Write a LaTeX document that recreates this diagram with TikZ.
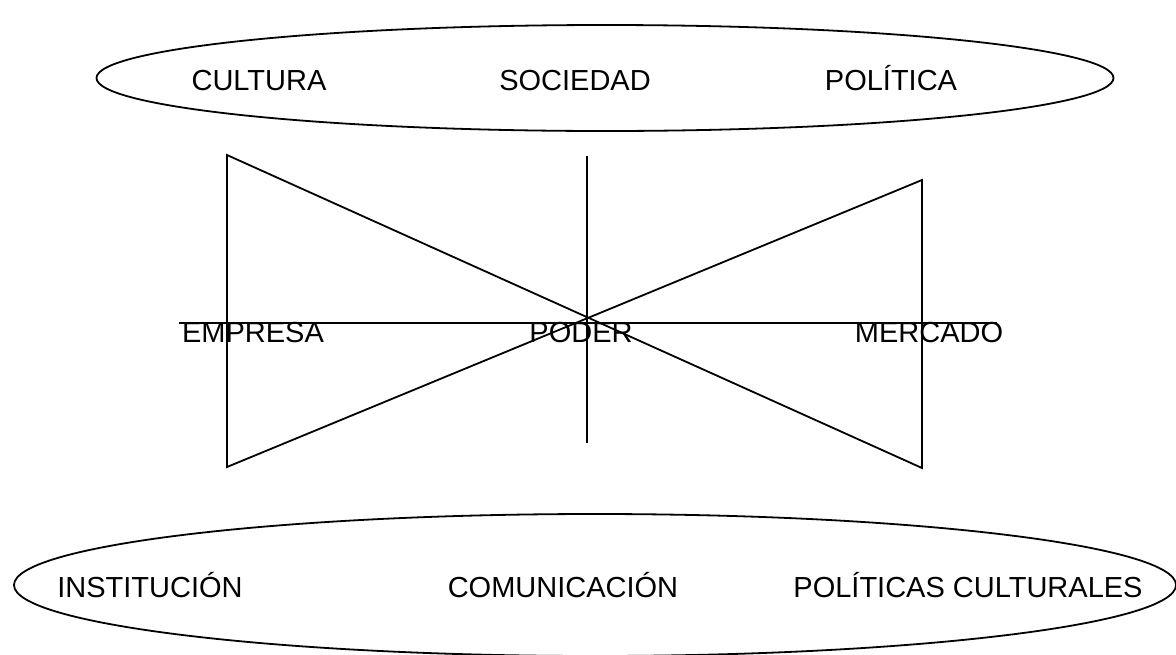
\documentclass[tikz,border=0pt]{standalone}
\usepackage{fontspec}
\setmainfont{Liberation Sans}
\usetikzlibrary{shapes.geometric}
\tikzset{
    rotulo/.style={font=\fontsize{29}{35}\selectfont,anchor=base,inner sep=0pt},
    ovalo/.style={draw,ellipse,inner sep=0pt},
}

\begin{document}
\begin{tikzpicture}[x=1pt,y=-1pt,line width=1.8pt]
		\useasboundingbox (0,0) rectangle (1176,654);
		\clip (0,0) rectangle (1176,654);
		\node[ovalo,minimum width=1017,minimum height=106] (arriba) at (605,78) {};
		\node[ovalo,minimum width=1162,minimum height=142] (abajo) at (595,585) {};
		\foreach \n/\t/\x in {cul/CULTURA/259,soc/SOCIEDAD/575,pol/POLÍTICA/891} \node[rotulo] (\n) at (\x,90) {\t};
		\foreach \n/\t/\x in {ins/INSTITUCIÓN/150,com/COMUNICACIÓN/563,pcu/POLÍTICAS CULTURALES/968} \node[rotulo] (\n) at (\x,597) {\t};
		\coordinate (empA) at (227,155); \coordinate (empB) at (227,467);
		\coordinate (merA) at (922,180); \coordinate (merB) at (922,468);
		\coordinate (podA) at (587,156); \coordinate (podB) at (587,443);
		\coordinate (ejeA) at (179,323); \coordinate (ejeB) at (997,323);
		\draw (empB) -- (empA) -- (merB) -- (merA) -- cycle;
		\draw (podA) -- (podB);
		\draw (ejeA) -- (ejeB);
		\foreach \n/\t/\x in {emp/EMPRESA/253,pod/PODER/581,mer/MERCADO/929} \node[rotulo] (\n) at (\x,342) {\t};
	\end{tikzpicture}
\end{document}
